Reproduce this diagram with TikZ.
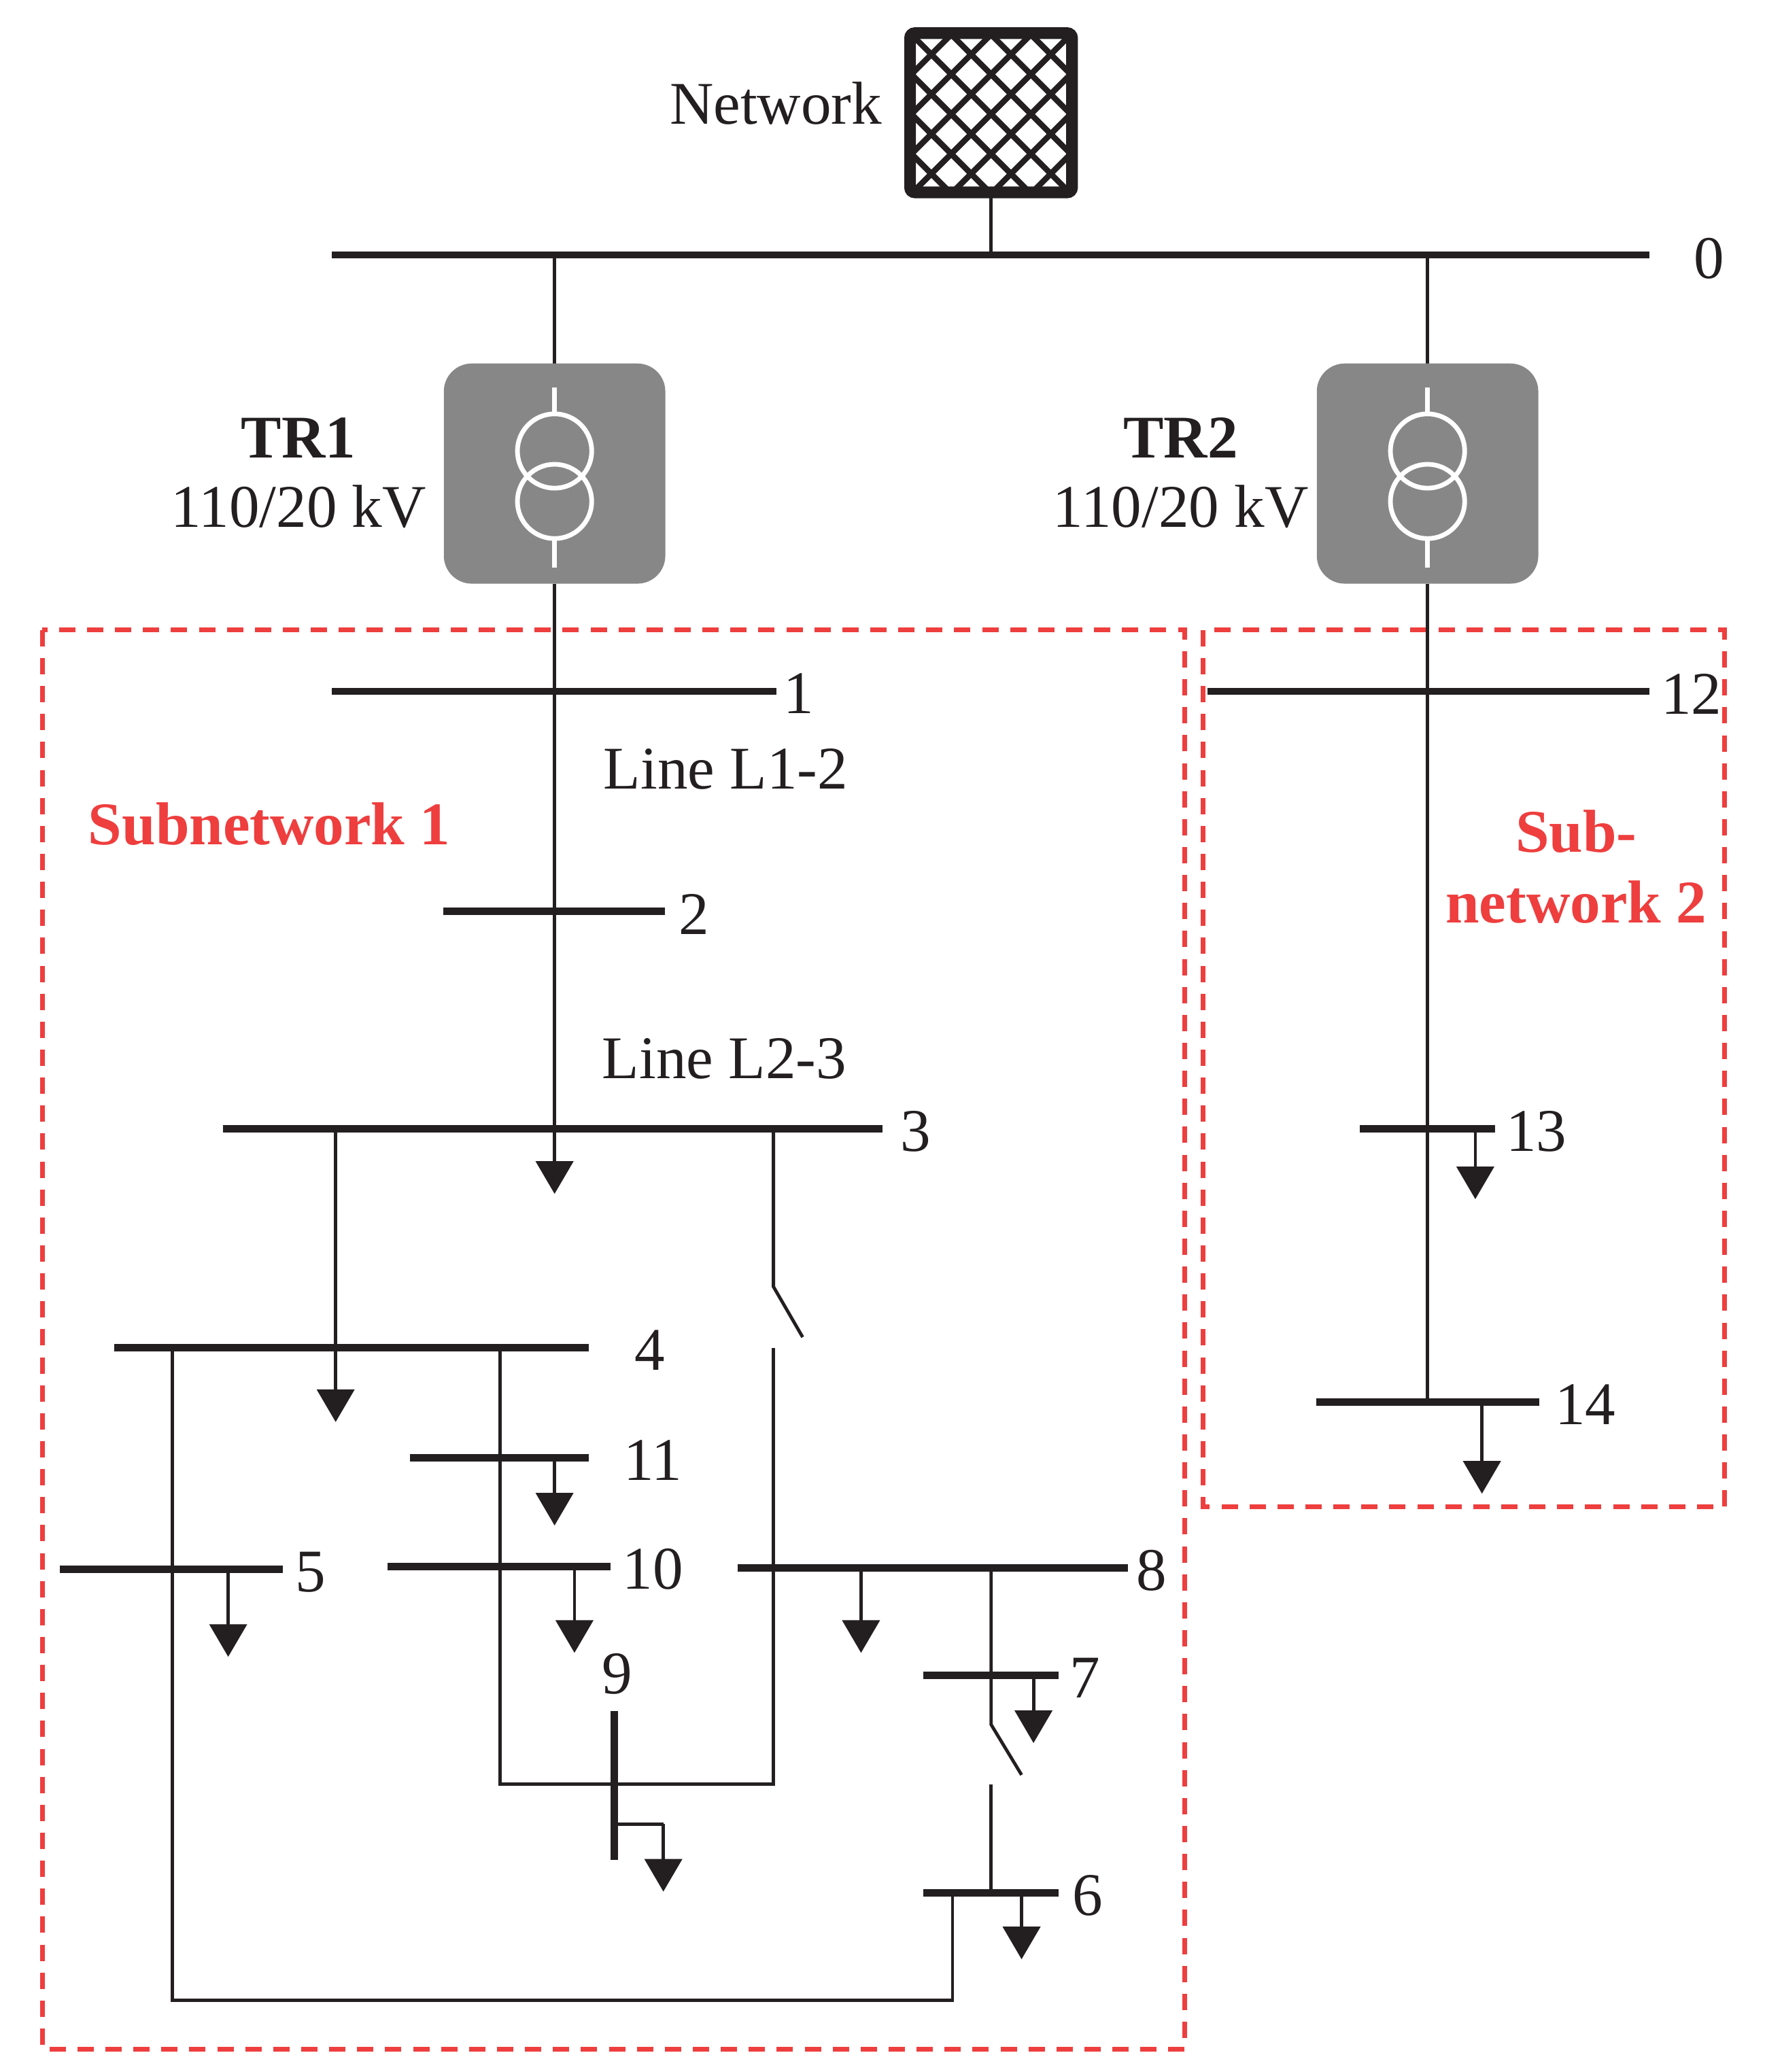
\documentclass[tikz,border=0pt]{standalone}
\usepackage{fontspec}
\setmainfont{Liberation Serif}
\usetikzlibrary{arrows.meta}
\definecolor{dk}{RGB}{35,31,32}
\definecolor{rd}{RGB}{238,62,62}
\definecolor{gr}{RGB}{135,135,135}
\begin{document}
\begin{tikzpicture}[x=0.02cm,y=-0.02cm,
 bus/.style={line width=3pt,dk},
 wire/.style={line width=1.4pt,dk},
 ld/.style={line width=1.4pt,dk,-{Triangle[width=16pt,length=14pt]}},
 lab/.style={font=\fontsize{26}{28}\selectfont,text=dk,inner sep=0pt},
 sub/.style={draw=rd,dashed,line width=2pt,dash pattern=on 7pt off 5pt},
 tr/.style={fill=gr,draw=none,rounded corners=12pt}]
\useasboundingbox (0,0) rectangle (1330,1562);
% network source
\begin{scope}
\clip (686,25) rectangle (808,145);
\foreach \i in {-120,-90,...,240}{
 \draw[line width=2.5pt,dk] (686+\i,25) -- (686+\i+120,145);
 \draw[line width=2.5pt,dk] (808-\i,25) -- (808-\i-120,145);}
\end{scope}
\draw[line width=5pt,dk,rounded corners=2pt] (686,25) rectangle (808,145);
\node[lab,anchor=east] (net) at (665,78) {Network};
\draw[wire] (747,145) -- (747,192);
% bus 0
\draw[bus] (250,192) -- (1243,192);
\node[lab] (n0) at (1288,195) {0};
% transformers
\foreach \x/\n in {418/TR1,1076/TR2}{
 \draw[wire] (\x,192) -- (\x,275);
 \node[tr,minimum width=3.34cm,minimum height=3.32cm] (\n) at (\x,357) {};
 \draw[white,line width=2pt] (\x,340) circle (28) (\x,378) circle (28);
 \draw[white,line width=2pt] (\x,292) -- (\x,312) (\x,406) -- (\x,428);
}
\node[lab,font=\fontsize{26}{28}\selectfont\bfseries] at (225,330) {TR1};
\node[lab] at (225,382) {110/20 kV};
\node[lab,font=\fontsize{26}{28}\selectfont\bfseries] at (890,330) {TR2};
\node[lab] at (890,382) {110/20 kV};
% subnetwork boxes
\draw[sub] (32,475) rectangle (893,1545);
\draw[sub] (907,475) rectangle (1300,1136);
\node[lab,text=rd,font=\fontsize{26}{28}\selectfont\bfseries] at (203,621) {Subnetwork 1};
\node[lab,text=rd,font=\fontsize{26}{28}\selectfont\bfseries] at (1188,627) {Sub-};
\node[lab,text=rd,font=\fontsize{26}{28}\selectfont\bfseries] at (1188,680) {network 2};
% main feeder 1
\draw[wire] (418,440) -- (418,851);
\draw[ld] (418,851) -- (418,900);
\draw[bus] (250,521) -- (585,521); \node[lab] at (602,523) {1};
\node[lab] at (547,580) {Line L1-2};
\draw[bus] (334,687) -- (501,687); \node[lab] at (523,689) {2};
\node[lab] at (546,798) {Line L2-3};
\draw[bus] (168,851) -- (665,851); \node[lab] at (690,853) {3};
\draw[ld] (253,851) -- (253,1072);
% switch 3-8
\draw[wire] (583,851) -- (583,970) -- (605,1008);
\draw[wire] (583,1016) -- (583,1345) -- (377,1345) -- (377,1016);
% bus 4
\draw[bus] (86,1016) -- (444,1016); \node[lab] at (490,1018) {4};
\draw[wire] (130,1016) -- (130,1508) -- (718,1508) -- (718,1427);
\draw[bus] (309,1099) -- (444,1099); \node[lab] at (492,1101) {11};
\draw[ld] (418,1099) -- (418,1150);
\draw[bus] (292,1181) -- (460,1181); \node[lab] at (492,1183) {10};
\draw[ld] (433,1181) -- (433,1246);
\draw[bus] (45,1183) -- (213,1183); \node[lab] at (234,1185) {5};
\draw[ld] (172,1183) -- (172,1249);
% bus 9
\draw[bus] (463,1290) -- (463,1402); \node[lab] at (465,1262) {9};
\draw[wire] (463,1375) -- (500,1375);
\draw[ld] (500,1375) -- (500,1426);
% bus 8
\draw[bus] (556,1182) -- (850,1182); \node[lab] at (868,1184) {8};
\draw[ld] (649,1182) -- (649,1246);
\draw[wire] (747,1182) -- (747,1300) -- (770,1338);
\draw[wire] (747,1345) -- (747,1427);
\draw[bus] (696,1263) -- (798,1263); \node[lab] at (818,1265) {7};
\draw[ld] (779,1263) -- (779,1314);
\draw[bus] (696,1427) -- (798,1427); \node[lab] at (820,1429) {6};
\draw[ld] (770,1427) -- (770,1477);
% feeder 2
\draw[wire] (1076,440) -- (1076,1057);
\draw[bus] (910,521) -- (1243,521); \node[lab] at (1275,523) {12};
\draw[bus] (1025,851) -- (1127,851); \node[lab] at (1158,853) {13};
\draw[ld] (1112,851) -- (1112,904);
\draw[bus] (992,1057) -- (1160,1057); \node[lab] at (1195,1059) {14};
\draw[ld] (1117,1057) -- (1117,1126);
\end{tikzpicture}
\end{document}
